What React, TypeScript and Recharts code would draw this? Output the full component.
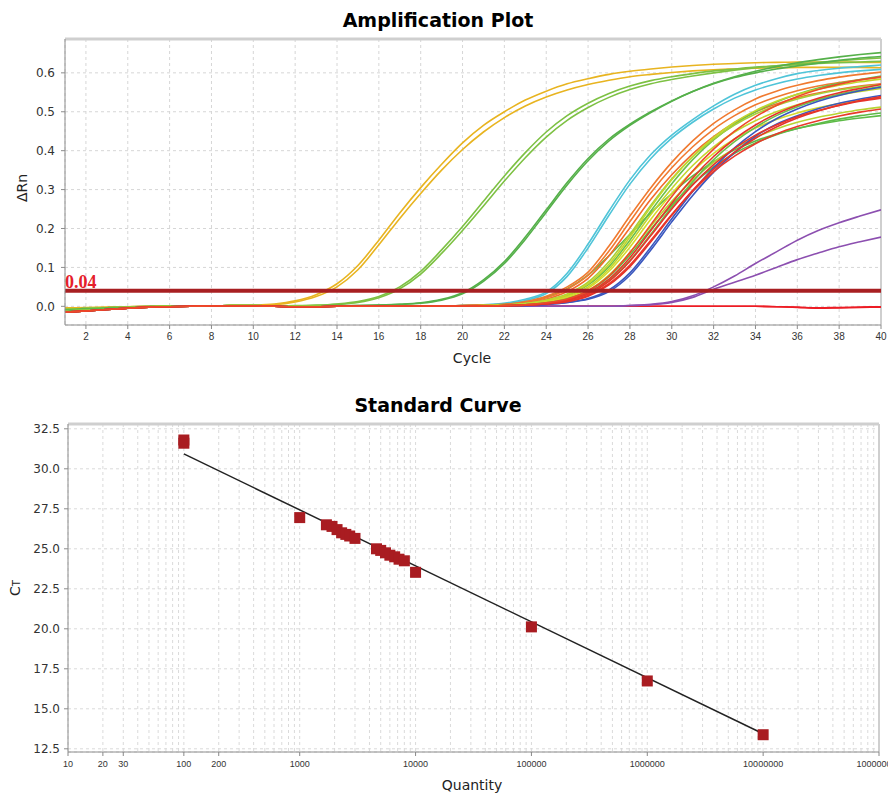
import React from "react";
import {
  CartesianGrid,
  Line,
  LineChart,
  ReferenceLine,
  Scatter,
  ScatterChart,
  XAxis,
  YAxis,
} from "recharts";

const SANS = "'DejaVu Sans', Verdana, sans-serif";
const NARROW = "'Liberation Sans', Arial, sans-serif";

// ---- amplification plot data (cycle 1..40) ----
const CYCLES = [
  1, 2, 3, 4, 5, 6, 7, 8, 9, 10, 11, 12, 13, 14, 15, 16, 17, 18, 19, 20, 21,
  22, 23, 24, 25, 26, 27, 28, 29, 30, 31, 32, 33, 34, 35, 36, 37, 38, 39, 40,
];
const CYCLE_TICKS = [
  2, 4, 6, 8, 10, 12, 14, 16, 18, 20, 22, 24, 26, 28, 30, 32, 34, 36, 38, 40,
];
const DRN_TICKS = [0, 0.1, 0.2, 0.3, 0.4, 0.5, 0.6];
const THRESHOLD = 0.04;

// baselines for cycles 1..19 of the later curves
const BASE_LOW = [
  -0.015, -0.012, -0.008, -0.005, -0.002, -0.001, 0, 0.001, 0.001, 0.001, 0,
  -0.001, -0.001, 0, 0, 0, 0.001, 0.001, 0.001,
];
const BASE_MID = [
  -0.008, -0.006, -0.004, -0.003, -0.001, 0, 0.001, 0.001, 0.002, 0.002,
  0.001, 0, 0, 0, 0, 0.001, 0.001, 0.001, 0.001,
];

const YELLOW_1 = [
  -0.004, -0.003, -0.002, -0.001, 0, 0.001, 0.001, 0.001, 0.002, 0.003, 0.006,
  0.014, 0.03, 0.058, 0.105, 0.17, 0.24, 0.305, 0.365, 0.42, 0.465, 0.5, 0.53,
  0.553, 0.572, 0.585, 0.596, 0.604, 0.61, 0.615, 0.619, 0.622, 0.624, 0.626,
  0.627, 0.628, 0.628, 0.628, 0.627, 0.627,
];
const YELLOW_2 = [
  -0.006, -0.004, -0.003, -0.001, 0, 0, 0.001, 0.001, 0.001, 0.002, 0.004,
  0.011, 0.025, 0.05, 0.094, 0.158, 0.226, 0.29, 0.35, 0.403, 0.448, 0.485,
  0.515, 0.538, 0.556, 0.57, 0.581, 0.59, 0.596, 0.601, 0.605, 0.608, 0.61,
  0.612, 0.613, 0.614, 0.614, 0.614, 0.614, 0.613,
];
const LGREEN_1 = [
  -0.008, -0.006, -0.004, -0.002, -0.001, 0, 0.001, 0.001, 0.002, 0.001,
  0.001, 0.002, 0.003, 0.006, 0.012, 0.025, 0.05, 0.09, 0.145, 0.205, 0.27,
  0.335, 0.395, 0.448, 0.49, 0.522, 0.547, 0.566, 0.58, 0.59, 0.598, 0.605,
  0.61, 0.615, 0.618, 0.621, 0.624, 0.626, 0.628, 0.63,
];
const LGREEN_2 = [
  -0.01, -0.007, -0.005, -0.003, -0.001, 0, 0, 0.001, 0.001, 0.001, 0.001,
  0.001, 0.002, 0.005, 0.01, 0.022, 0.045, 0.083, 0.136, 0.195, 0.258, 0.322,
  0.382, 0.435, 0.478, 0.511, 0.537, 0.557, 0.572, 0.583, 0.592, 0.6, 0.607,
  0.613, 0.618, 0.623, 0.627, 0.631, 0.635, 0.638,
];
const GREEN_1 = [
  -0.01, -0.007, -0.004, -0.002, 0, 0.001, 0.001, 0.001, 0.001, 0, 0, 0.001,
  0.001, 0.002, 0.002, 0.003, 0.005, 0.009, 0.018, 0.035, 0.068, 0.115, 0.178,
  0.248, 0.318, 0.38, 0.43, 0.468, 0.5, 0.528, 0.552, 0.572, 0.588, 0.6, 0.61,
  0.618, 0.625, 0.632, 0.638, 0.642,
];
const GREEN_2 = [
  -0.012, -0.009, -0.006, -0.003, -0.001, 0, 0.001, 0.001, 0.001, 0.001, 0, 0,
  0.001, 0.001, 0.002, 0.003, 0.005, 0.008, 0.016, 0.032, 0.064, 0.11, 0.172,
  0.242, 0.312, 0.374, 0.425, 0.465, 0.498, 0.527, 0.552, 0.573, 0.59, 0.604,
  0.616, 0.626, 0.634, 0.641, 0.647, 0.652,
];

// tails for cycles 20..40
const CYAN_1 = [0.002, 0.004, 0.008, 0.018, 0.037, 0.085, 0.16, 0.245, 0.325, 0.39, 0.44, 0.48, 0.515, 0.545, 0.568, 0.585, 0.598, 0.606, 0.612, 0.616, 0.62];
const CYAN_2 = [0.002, 0.003, 0.007, 0.015, 0.033, 0.077, 0.15, 0.234, 0.314, 0.38, 0.432, 0.473, 0.507, 0.535, 0.556, 0.572, 0.584, 0.593, 0.6, 0.605, 0.609];
const ORANGE_1 = [0.002, 0.003, 0.005, 0.012, 0.026, 0.05, 0.088, 0.155, 0.232, 0.305, 0.37, 0.425, 0.47, 0.505, 0.533, 0.553, 0.568, 0.58, 0.589, 0.596, 0.602];
const ORANGE_2 = [0.002, 0.003, 0.004, 0.01, 0.022, 0.044, 0.08, 0.142, 0.218, 0.292, 0.356, 0.41, 0.455, 0.49, 0.518, 0.538, 0.554, 0.566, 0.575, 0.582, 0.588];
const ORANGE_3 = [0.001, 0.002, 0.004, 0.008, 0.018, 0.038, 0.072, 0.13, 0.202, 0.275, 0.338, 0.392, 0.436, 0.472, 0.5, 0.52, 0.536, 0.548, 0.558, 0.566, 0.572];
const GREEN_SLOW = [0.002, 0.003, 0.005, 0.011, 0.024, 0.045, 0.08, 0.13, 0.185, 0.24, 0.29, 0.335, 0.372, 0.402, 0.425, 0.443, 0.457, 0.468, 0.477, 0.484, 0.49];
const LIME_1 = [0.001, 0.002, 0.003, 0.007, 0.016, 0.032, 0.062, 0.115, 0.185, 0.26, 0.328, 0.385, 0.43, 0.466, 0.494, 0.516, 0.533, 0.546, 0.556, 0.564, 0.57];
const YGREEN_1 = [0.001, 0.002, 0.003, 0.007, 0.015, 0.03, 0.058, 0.108, 0.178, 0.255, 0.325, 0.385, 0.434, 0.473, 0.503, 0.527, 0.545, 0.558, 0.568, 0.577, 0.584];
const YGREEN_2 = [0.001, 0.002, 0.003, 0.006, 0.013, 0.026, 0.05, 0.096, 0.162, 0.236, 0.303, 0.362, 0.41, 0.448, 0.477, 0.5, 0.518, 0.532, 0.543, 0.552, 0.56];
const YGREEN_3 = [0.001, 0.001, 0.003, 0.005, 0.011, 0.023, 0.046, 0.09, 0.152, 0.224, 0.29, 0.347, 0.393, 0.43, 0.458, 0.48, 0.497, 0.51, 0.521, 0.53, 0.537];
const YGREEN_4 = [0.001, 0.001, 0.002, 0.005, 0.01, 0.02, 0.04, 0.08, 0.138, 0.206, 0.27, 0.325, 0.37, 0.406, 0.434, 0.456, 0.473, 0.486, 0.496, 0.505, 0.512];
const MGREEN_1 = [0.001, 0.002, 0.003, 0.007, 0.014, 0.028, 0.055, 0.102, 0.17, 0.245, 0.315, 0.377, 0.428, 0.468, 0.5, 0.525, 0.545, 0.561, 0.573, 0.583, 0.592];
const MGREEN_2 = [0.001, 0.001, 0.002, 0.004, 0.009, 0.019, 0.038, 0.076, 0.132, 0.198, 0.26, 0.314, 0.358, 0.393, 0.42, 0.441, 0.457, 0.47, 0.481, 0.49, 0.497];
const MGREEN_3 = [0.001, 0.001, 0.002, 0.004, 0.008, 0.016, 0.032, 0.066, 0.118, 0.185, 0.255, 0.32, 0.377, 0.423, 0.46, 0.49, 0.513, 0.531, 0.545, 0.556, 0.565];
const RED_1 = [0.001, 0.001, 0.002, 0.004, 0.008, 0.017, 0.035, 0.07, 0.125, 0.195, 0.265, 0.33, 0.385, 0.43, 0.466, 0.495, 0.517, 0.535, 0.549, 0.56, 0.57];
const RED_2 = [0.001, 0.001, 0.002, 0.003, 0.007, 0.015, 0.031, 0.064, 0.116, 0.182, 0.25, 0.312, 0.364, 0.406, 0.44, 0.466, 0.487, 0.503, 0.516, 0.527, 0.535];
const RED_3 = [0.001, 0.001, 0.002, 0.003, 0.006, 0.013, 0.028, 0.058, 0.106, 0.17, 0.236, 0.296, 0.346, 0.386, 0.418, 0.443, 0.462, 0.477, 0.489, 0.499, 0.507];
const RED_4 = [0.001, 0.001, 0.001, 0.003, 0.006, 0.012, 0.026, 0.055, 0.102, 0.166, 0.234, 0.298, 0.352, 0.396, 0.432, 0.461, 0.484, 0.502, 0.517, 0.529, 0.539];
const RED_5 = [0.001, 0.001, 0.002, 0.004, 0.009, 0.019, 0.04, 0.078, 0.138, 0.21, 0.282, 0.348, 0.404, 0.45, 0.487, 0.516, 0.539, 0.557, 0.571, 0.582, 0.59];
const BLUE_1 = [0.001, 0.001, 0.001, 0.002, 0.005, 0.01, 0.018, 0.038, 0.08, 0.145, 0.217, 0.285, 0.345, 0.395, 0.437, 0.468, 0.49, 0.508, 0.522, 0.533, 0.542];
const BLUE_2 = [0.001, 0.001, 0.001, 0.002, 0.005, 0.01, 0.02, 0.042, 0.086, 0.152, 0.225, 0.295, 0.356, 0.407, 0.449, 0.482, 0.507, 0.527, 0.542, 0.554, 0.563];
const PURPLE_1 = [0, 0, 0, 0, 0, 0, 0, 0, 0.002, 0.005, 0.012, 0.027, 0.05, 0.078, 0.11, 0.14, 0.17, 0.195, 0.215, 0.232, 0.248];
const PURPLE_2 = [0, 0, 0, 0, 0, 0, 0, 0, 0.002, 0.004, 0.01, 0.023, 0.044, 0.062, 0.08, 0.1, 0.12, 0.137, 0.153, 0.166, 0.178];
const NTC_1 = [0, 0, 0, 0, 0, 0, 0, 0, 0, 0, 0, 0, 0, 0, 0, -0.001, -0.003, -0.005, -0.004, -0.003, -0.002];
const NTC_2 = [0.001, 0.001, 0, 0, 0, 0, 0, 0, 0, 0, 0, 0, 0, 0, 0, -0.001, -0.002, -0.004, -0.003, -0.002, -0.001];

const CURVES = [
  { key: "ntc1", color: "#ED1C24", values: [...BASE_LOW, ...NTC_1] },
  { key: "ntc2", color: "#ED1C24", values: [...BASE_LOW, ...NTC_2] },
  { key: "pur1", color: "#8C4FB0", values: [...BASE_MID, ...PURPLE_1] },
  { key: "pur2", color: "#8C4FB0", values: [...BASE_MID, ...PURPLE_2] },
  { key: "yel1", color: "#E8B420", values: YELLOW_1 },
  { key: "yel2", color: "#E8B420", values: YELLOW_2 },
  { key: "lg1", color: "#7DC143", values: LGREEN_1 },
  { key: "lg2", color: "#7DC143", values: LGREEN_2 },
  { key: "g1", color: "#55B04A", values: GREEN_1 },
  { key: "g2", color: "#55B04A", values: GREEN_2 },
  { key: "cy1", color: "#4FC4D8", values: [...BASE_MID, ...CYAN_1] },
  { key: "cy2", color: "#4FC4D8", values: [...BASE_MID, ...CYAN_2] },
  { key: "gs", color: "#5DBB47", values: [...BASE_MID, ...GREEN_SLOW] },
  { key: "or1", color: "#F07A30", values: [...BASE_MID, ...ORANGE_1] },
  { key: "or2", color: "#F07A30", values: [...BASE_MID, ...ORANGE_2] },
  { key: "or3", color: "#F26B2C", values: [...BASE_LOW, ...ORANGE_3] },
  { key: "mg1", color: "#6CC04A", values: [...BASE_MID, ...MGREEN_1] },
  { key: "lm1", color: "#A8CF38", values: [...BASE_MID, ...LIME_1] },
  { key: "yg1", color: "#C3D62C", values: [...BASE_MID, ...YGREEN_1] },
  { key: "yg2", color: "#C3D62C", values: [...BASE_LOW, ...YGREEN_2] },
  { key: "yg3", color: "#D5DA2A", values: [...BASE_MID, ...YGREEN_3] },
  { key: "yg4", color: "#B8D432", values: [...BASE_LOW, ...YGREEN_4] },
  { key: "mg2", color: "#5DBB47", values: [...BASE_MID, ...MGREEN_2] },
  { key: "mg3", color: "#6CC04A", values: [...BASE_LOW, ...MGREEN_3] },
  { key: "bl1", color: "#3A57BE", values: [...BASE_LOW, ...BLUE_1] },
  { key: "bl2", color: "#3A57BE", values: [...BASE_LOW, ...BLUE_2] },
  { key: "r1", color: "#E6342A", values: [...BASE_LOW, ...RED_1] },
  { key: "r2", color: "#E6342A", values: [...BASE_LOW, ...RED_2] },
  { key: "r3", color: "#E83A2A", values: [...BASE_LOW, ...RED_3] },
  { key: "r4", color: "#E6342A", values: [...BASE_LOW, ...RED_4] },
  { key: "r5", color: "#EE4A2A", values: [...BASE_LOW, ...RED_5] },
];

// ---- standard curve data ----
const QUANTITIES = [
  100, 100, 1000, 1700, 1900, 2100, 2300, 2500, 2700, 3000, 4600, 5000, 5500,
  6000, 6600, 7200, 8000, 10000, 100000, 1000000, 10000000,
];
const CT_VALUES = [
  31.6, 31.8, 26.95, 26.5, 26.4, 26.2, 26.0, 25.9, 25.8, 25.65, 25.0, 24.9,
  24.75, 24.6, 24.5, 24.35, 24.25, 23.53, 20.12, 16.74, 13.38,
];
const FIT_QUANTITIES = [100, 10000000];
const FIT_CT = [30.93, 13.44];
const CT_TICKS = [12.5, 15, 17.5, 20, 22.5, 25, 27.5, 30, 32.5];
const QUANTITY_LABELS = [
  10, 20, 30, 100, 200, 1000, 10000, 100000, 1000000, 10000000, 100000000,
];
const DECADES = [10, 100, 1000, 10000, 100000, 1000000, 10000000];
const MULTIPLIERS = [1, 2, 3, 4, 5, 6, 7, 8, 9];

const ampData = CYCLES.map((cycle, i) => {
  const row: Record<string, number> = { cycle };
  CURVES.forEach((c) => {
    row[c.key] = c.values[i];
  });
  return row;
});

const stdPoints = QUANTITIES.map((q, i) => ({ q, ct: CT_VALUES[i] }));
const fitPoints = FIT_QUANTITIES.map((q, i) => ({ q, ct: FIT_CT[i] }));
const quantityGrid = [
  ...DECADES.flatMap((d) => MULTIPLIERS.map((m) => m * d)),
  100000000,
];

const ThresholdLabel = (props: any) => {
  const { viewBox } = props;
  return (
    <text
      x={viewBox.x}
      y={viewBox.y - 3}
      fill="#E5202A"
      fontFamily="'Liberation Serif', 'DejaVu Serif', serif"
      fontWeight="bold"
      fontSize={18}
    >
      0.04
    </text>
  );
};

const QuantityTick = (props: any) => {
  const { x, y, payload } = props;
  if (!QUANTITY_LABELS.includes(payload.value)) return <g />;
  return (
    <g>
      <line x1={x} x2={x} y1={y - 8} y2={y - 4} stroke="#888" />
      <text
        x={x}
        y={y + 7}
        textAnchor="middle"
        fontSize={9}
        fontFamily={NARROW}
        fill="#333"
      >
        {String(payload.value)}
      </text>
    </g>
  );
};

const Square = (props: any) => {
  const { cx, cy } = props;
  return <rect x={cx - 5.5} y={cy - 5.5} width={11} height={11} fill="#A91C21" />;
};

const NoShape = () => <g />;

const titleStyle: React.CSSProperties = {
  position: "absolute",
  left: 0,
  width: 876,
  textAlign: "center",
  fontFamily: SANS,
  fontWeight: "bold",
  fontSize: 19,
  lineHeight: "19px",
  color: "#000",
};

const axisLabelStyle: React.CSSProperties = {
  position: "absolute",
  fontFamily: SANS,
  fontSize: 14,
  lineHeight: "14px",
  color: "#222",
  whiteSpace: "nowrap",
  transform: "translate(-50%, -50%)",
};

export default function App() {
  return (
    <div
      style={{
        position: "absolute",
        left: 0,
        top: 0,
        width: 888,
        height: 797,
        overflow: "hidden",
        background: "#fff",
      }}
    >
      <div style={{ ...titleStyle, top: 11 }}>Amplification Plot</div>
      <div style={{ position: "absolute", left: 0, top: 0 }}>
        <LineChart
          width={888}
          height={370}
          data={ampData}
          margin={{ top: 39, right: 7, bottom: 0, left: 0 }}
        >
          <CartesianGrid strokeDasharray="3 3" stroke="#d6d6d6" />
          <XAxis
            dataKey="cycle"
            type="number"
            domain={[1, 40]}
            ticks={CYCLE_TICKS}
            interval={0}
            height={45}
            stroke="#8c8c8c"
            tickSize={4}
            tickMargin={4}
            tick={{ fontSize: 10, fill: "#333", fontFamily: NARROW }}
            allowDataOverflow
          />
          <YAxis
            type="number"
            domain={[-0.048, 0.687]}
            ticks={DRN_TICKS}
            interval={0}
            width={65}
            stroke="#8c8c8c"
            tickSize={4}
            tickMargin={6}
            tickFormatter={(v: number) => v.toFixed(1)}
            tick={{ fontSize: 12, fill: "#333", fontFamily: SANS }}
            allowDataOverflow
          />
          <ReferenceLine y={0.687} stroke="#cfcfcf" strokeWidth={3} />
          <ReferenceLine x={40} stroke="#cfcfcf" strokeWidth={2} />
          {CURVES.map((c) => (
            <Line
              key={c.key}
              dataKey={c.key}
              type="monotone"
              stroke={c.color}
              strokeWidth={1.6}
              dot={false}
              activeDot={false}
              isAnimationActive={false}
            />
          ))}
          <ReferenceLine
            y={THRESHOLD}
            stroke="#A81F22"
            strokeWidth={4}
            label={ThresholdLabel}
          />
        </LineChart>
      </div>
      <div style={{ ...axisLabelStyle, left: 472, top: 358 }}>Cycle</div>
      <div
        style={{
          ...axisLabelStyle,
          left: 22,
          top: 188,
          transform: "translate(-50%, -50%) rotate(-90deg)",
        }}
      >
        ΔRn
      </div>

      <div style={{ ...titleStyle, top: 396 }}>Standard Curve</div>
      <div style={{ position: "absolute", left: 0, top: 400 }}>
        <ScatterChart
          width={888}
          height={397}
          margin={{ top: 24, right: 9, bottom: 0, left: 0 }}
        >
          <CartesianGrid strokeDasharray="3 3" stroke="#dadada" />
          <XAxis
            dataKey="q"
            type="number"
            scale="log"
            domain={[10, 100000000]}
            ticks={quantityGrid}
            interval={0}
            height={45}
            stroke="#8c8c8c"
            tickLine={false}
            tick={QuantityTick}
            allowDataOverflow
          />
          <YAxis
            dataKey="ct"
            type="number"
            domain={[12.3, 32.8]}
            ticks={CT_TICKS}
            interval={0}
            width={68}
            stroke="#8c8c8c"
            tickSize={4}
            tickMargin={4}
            tickFormatter={(v: number) => v.toFixed(1)}
            tick={{ fontSize: 12, fill: "#333", fontFamily: SANS }}
            allowDataOverflow
          />
          <ReferenceLine y={32.8} stroke="#cfcfcf" strokeWidth={3} />
          <ReferenceLine x={100000000} stroke="#cfcfcf" strokeWidth={2} />
          <Scatter
            data={fitPoints}
            line={{ stroke: "#222", strokeWidth: 1.5 }}
            shape={NoShape}
            isAnimationActive={false}
          />
          <Scatter data={stdPoints} shape={Square} isAnimationActive={false} />
        </ScatterChart>
      </div>
      <div style={{ ...axisLabelStyle, left: 472, top: 785 }}>Quantity</div>
      <div
        style={{
          ...axisLabelStyle,
          left: 16,
          top: 588,
          transform: "translate(-50%, -50%) rotate(-90deg)",
        }}
      >
        C<span style={{ fontSize: 10 }}>T</span>
      </div>
    </div>
  );
}
